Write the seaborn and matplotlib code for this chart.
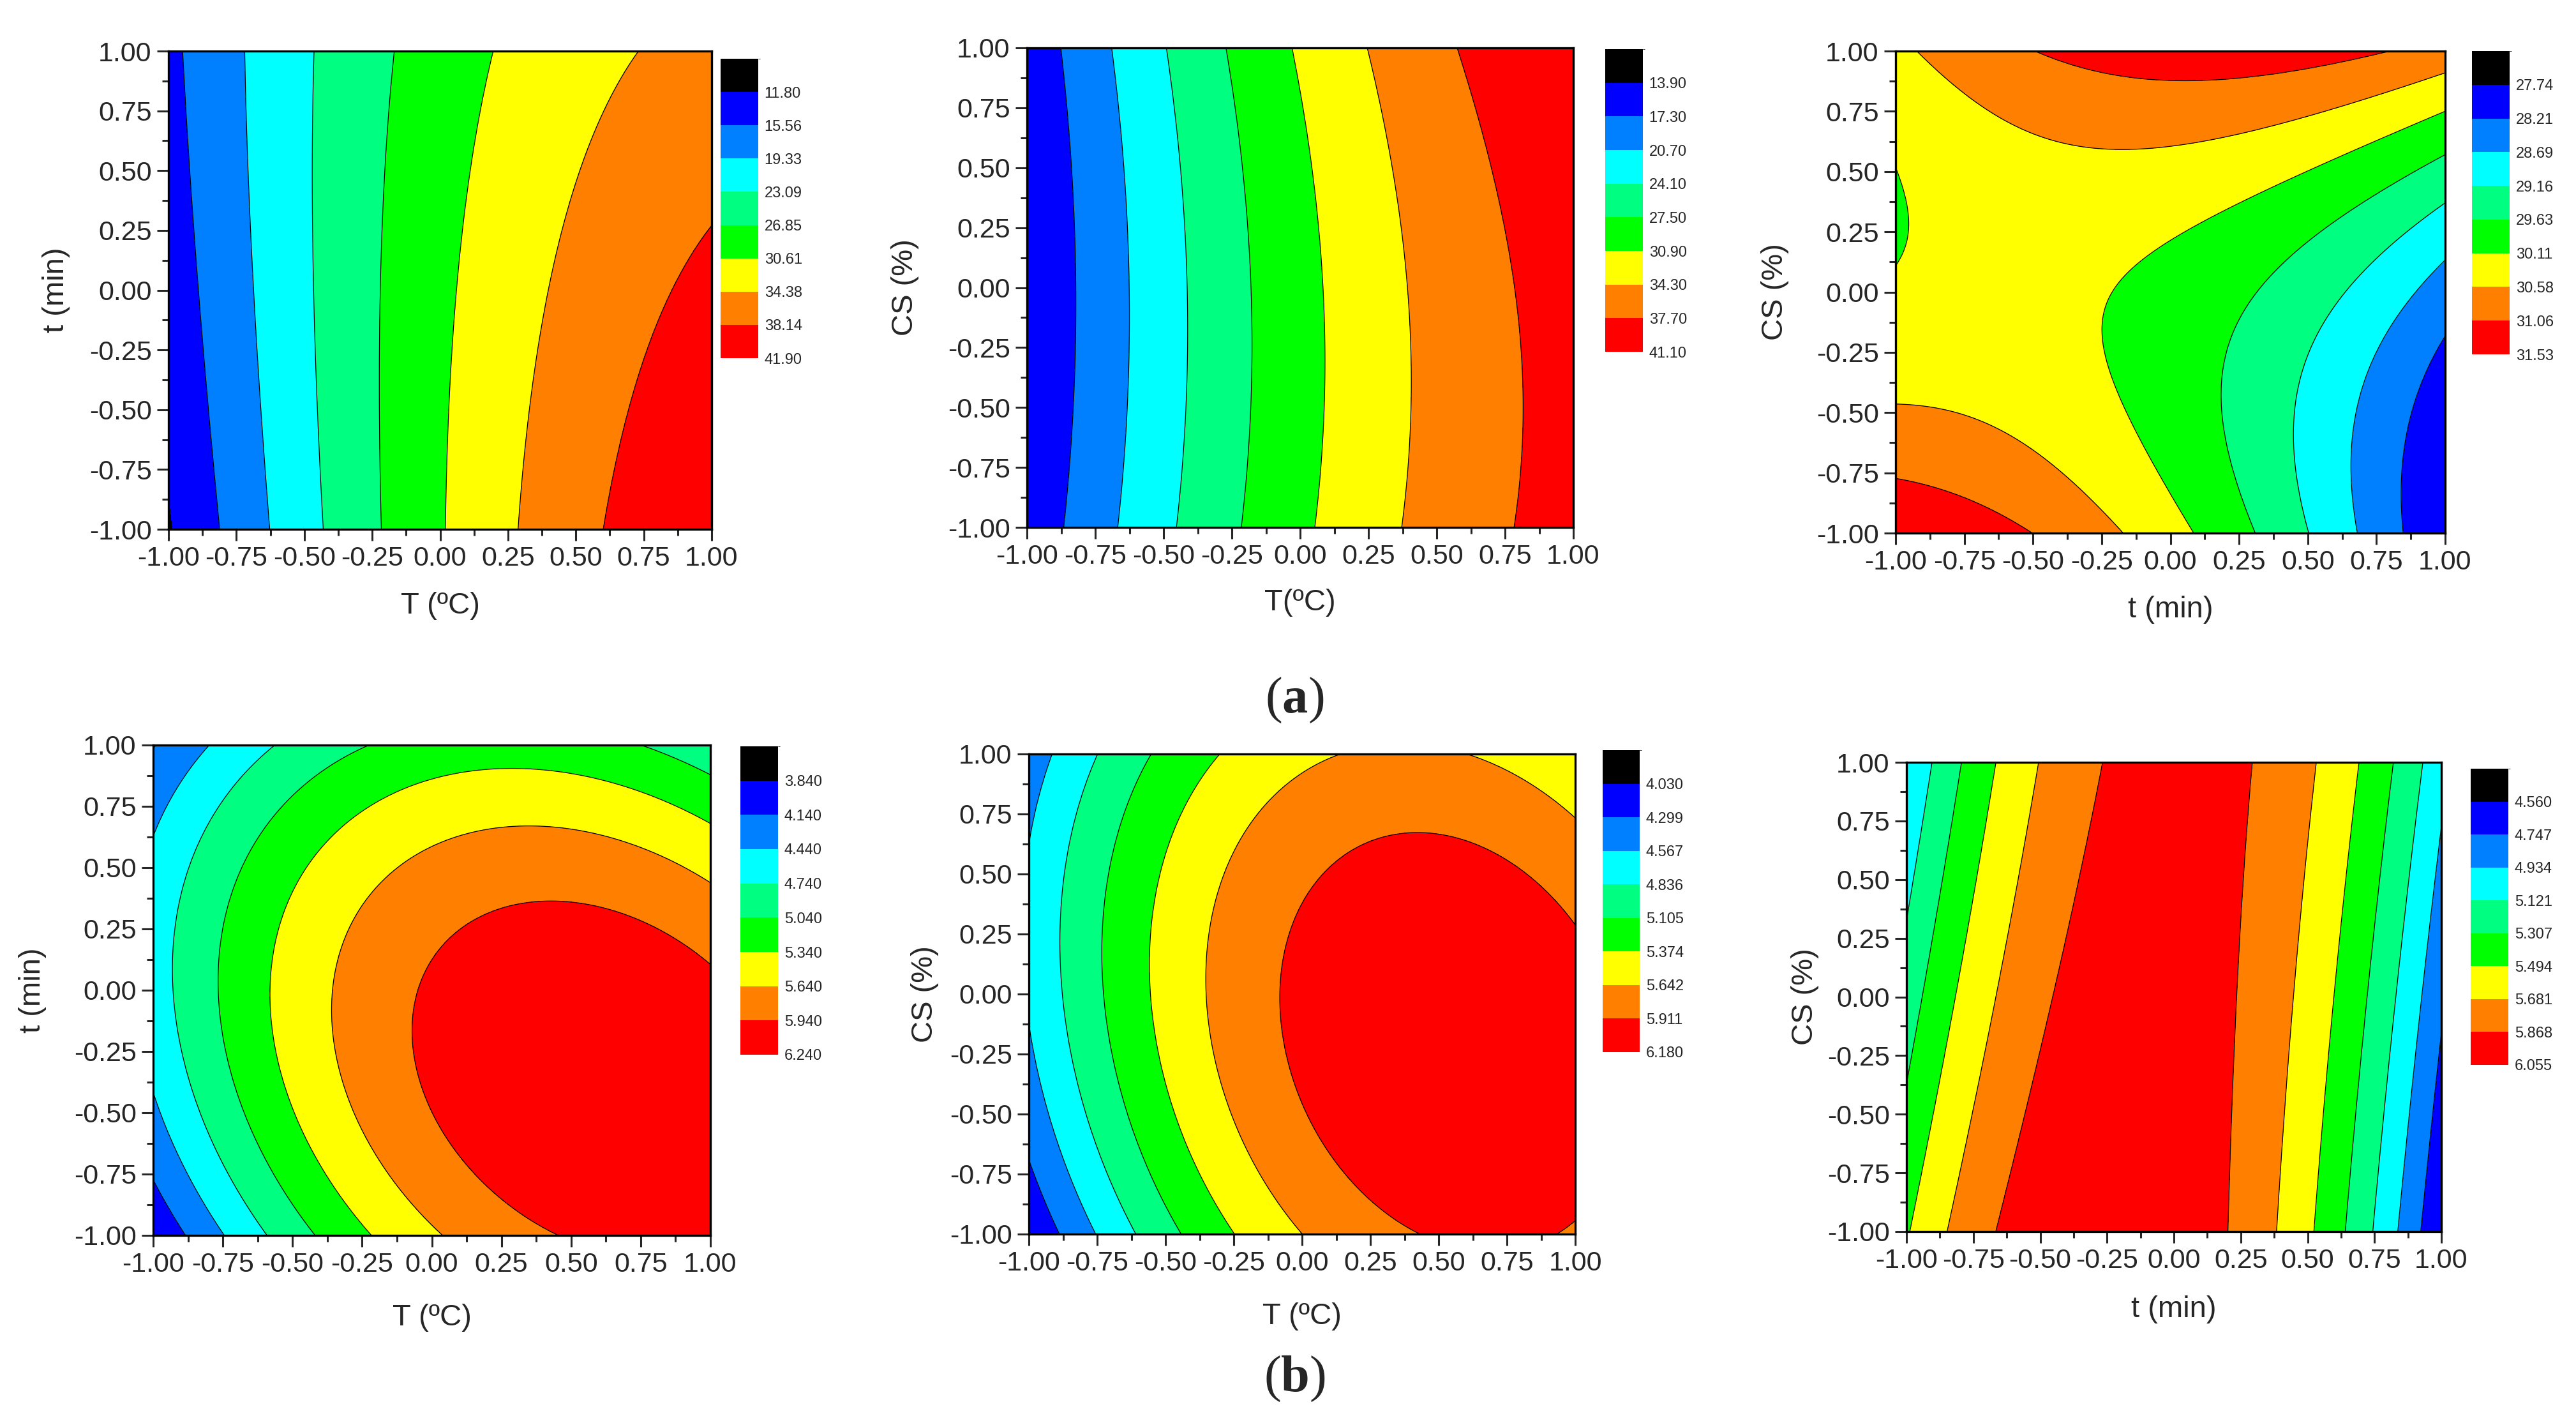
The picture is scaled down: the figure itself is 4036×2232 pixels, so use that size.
import numpy as np
import matplotlib
matplotlib.use("Agg")
import matplotlib.pyplot as plt
from matplotlib.colors import ListedColormap, BoundaryNorm
from matplotlib.cm import ScalarMappable
from matplotlib.ticker import MultipleLocator, FormatStrFormatter
import seaborn as sns

# fitted response-surface coefficients, coded variables in [-1, 1]
# order: b0, b_x, b_y, b_xy, b_xx, b_yy
coef_a1 = [29.85, 12.82, -0.80, -2.40, -3.64, -0.34]     # T vs t
coef_a2 = [29.87, 12.58, 0.515, 0.48, -3.32, 0.905]      # T vs CS
coef_a3 = [29.96, -0.845, 0.52, 1.043, -0.648, 0.835]    # t vs CS
coef_b1 = [5.977, 0.705, -0.223, -0.35, -0.675, -0.60]   # T vs t
coef_b2 = [5.973, 0.707, -0.028, -0.208, -0.671, -0.36]  # T vs CS
coef_b3 = [5.972, -0.214, -0.0275, 0.240, -0.978, 0.0]   # t vs CS

# contour levels as printed on the colour scales
levels_a1 = [11.80, 15.56, 19.33, 23.09, 26.85, 30.61, 34.38, 38.14, 41.90]
levels_a2 = [13.90, 17.30, 20.70, 24.10, 27.50, 30.90, 34.30, 37.70, 41.10]
levels_a3 = [27.74, 28.21, 28.69, 29.16, 29.63, 30.11, 30.58, 31.06, 31.53]
levels_b1 = [3.840, 4.140, 4.440, 4.740, 5.040, 5.340, 5.640, 5.940, 6.240]
levels_b2 = [4.030, 4.299, 4.567, 4.836, 5.105, 5.374, 5.642, 5.911, 6.180]
levels_b3 = [4.560, 4.747, 4.934, 5.121, 5.307, 5.494, 5.681, 5.868, 6.055]

xlabels = ["T (ºC)", "T(ºC)", "t (min)", "T (ºC)", "T (ºC)", "t (min)"]
ylabels = ["t (min)", "CS (%)", "CS (%)", "t (min)", "CS (%)", "CS (%)"]

band_colors = ["#0000ff", "#0080ff", "#00ffff", "#00ff80",
               "#00ff00", "#ffff00", "#ff8000", "#ff0000"]

W, H = 4036, 2232
# pixel boxes: axes (left, right, top, bottom), colour bar (left, right, top, bottom),
# y-label offset, x-label offset, colour-bar decimals
layout = [
    ((264, 1115, 80, 829), (1129, 1188, 92, 561), 176, 120, 2),
    ((1609, 2465, 75, 826), (2515, 2574, 77, 551), 191, 118, 2),
    ((2970, 3831, 80, 835), (3873, 3932, 80, 555), 189, 120, 2),
    ((240, 1113, 1167, 1935), (1160, 1219, 1169, 1652), 189, 129, 3),
    ((1612, 2468, 1181, 1933), (2511, 2569, 1175, 1648), 163, 129, 3),
    ((2987, 3825, 1194, 1929), (3871, 3930, 1204, 1668), 159, 122, 3),
]

sns.set_style("ticks")
plt.rcParams["font.family"] = ["Liberation Sans", "DejaVu Sans"]
plt.rcParams["axes.unicode_minus"] = False
plt.rcParams["mathtext.fontset"] = "custom"
plt.rcParams["mathtext.rm"] = "Liberation Serif"
plt.rcParams["mathtext.bf"] = "Liberation Serif:bold"


def to_fig(box):
    l, r, t, b = box
    return [l / W, 1 - b / H, (r - l) / W, (b - t) / H]


def surface(coef, X, Y):
    b0, bx, by, bxy, bxx, byy = coef
    return b0 + bx * X + by * Y + bxy * X * Y + bxx * X ** 2 + byy * Y ** 2


def draw_panel(fig, coef, levels, xlabel, ylabel, lay):
    box, cbox, ylab_off, xlab_off, dec = lay
    ax = fig.add_axes(to_fig(box))
    g = np.linspace(-1, 1, 301)
    X, Y = np.meshgrid(g, g)
    Z = surface(coef, X, Y)

    cmap = ListedColormap(band_colors)
    cmap.set_under("black")
    cmap.set_over(band_colors[-1])
    norm = BoundaryNorm(levels, cmap.N)
    ax.contourf(X, Y, Z, levels=levels, cmap=cmap, norm=norm, extend="both")
    # inner boundaries only; the outer levels just close the scale
    ax.contour(X, Y, Z, levels=levels[1:-1], colors="black", linewidths=0.9)

    ax.set_xlim(-1, 1)
    ax.set_ylim(-1, 1)
    for a in (ax.xaxis, ax.yaxis):
        a.set_major_locator(MultipleLocator(0.25))
        a.set_minor_locator(MultipleLocator(0.125))
        a.set_major_formatter(FormatStrFormatter("%.2f"))
    ax.tick_params(which="both", direction="out", width=2.2, top=False, right=False,
                   labelsize=31)
    ax.tick_params(which="major", length=13, pad=6)
    ax.tick_params(which="minor", length=7)
    for s in ax.spines.values():
        s.set_linewidth(2.4)
        s.set_color("black")

    h = box[3] - box[2]
    w = box[1] - box[0]
    ax.set_xlabel(xlabel, fontsize=34)
    ax.set_ylabel(ylabel, fontsize=34)
    ax.xaxis.set_label_coords(0.5, -xlab_off / h)
    ax.yaxis.set_label_coords(-ylab_off / w, 0.5)
    ax.xaxis.label.set_va("center")
    ax.yaxis.label.set_va("center")

    # colour scale: black cap on top, then the eight bands
    cax = fig.add_axes(to_fig(cbox))
    step = levels[1] - levels[0]
    bounds = [levels[0] - step] + list(levels)
    cb_cmap = ListedColormap(["black"] + band_colors)
    sm = ScalarMappable(norm=BoundaryNorm(bounds, cb_cmap.N), cmap=cb_cmap)
    cb = fig.colorbar(sm, cax=cax, ticks=levels)
    cb.outline.set_visible(False)
    cax.invert_yaxis()
    cax.set_yticklabels([f"{v:.{dec}f}" for v in levels])
    cax.tick_params(length=0, labelsize=17, pad=7)
    return ax


fig = plt.figure(figsize=(W / 100, H / 100), dpi=100)

all_coefs = [coef_a1, coef_a2, coef_a3, coef_b1, coef_b2, coef_b3]
all_levels = [levels_a1, levels_a2, levels_a3, levels_b1, levels_b2, levels_b3]
for coef, lev, xl, yl, lay in zip(all_coefs, all_levels, xlabels, ylabels, layout):
    draw_panel(fig, coef, lev, xl, yl, lay)

fig.text(2028 / W, 1 - 1097 / H, r"($\mathbf{a}$)", family="Liberation Serif",
         fontsize=58, ha="center", va="center")
fig.text(2028 / W, 1 - 2160 / H, r"($\mathbf{b}$)", family="Liberation Serif",
         fontsize=58, ha="center", va="center")

fig.savefig("out.png", dpi=100, facecolor="white")
